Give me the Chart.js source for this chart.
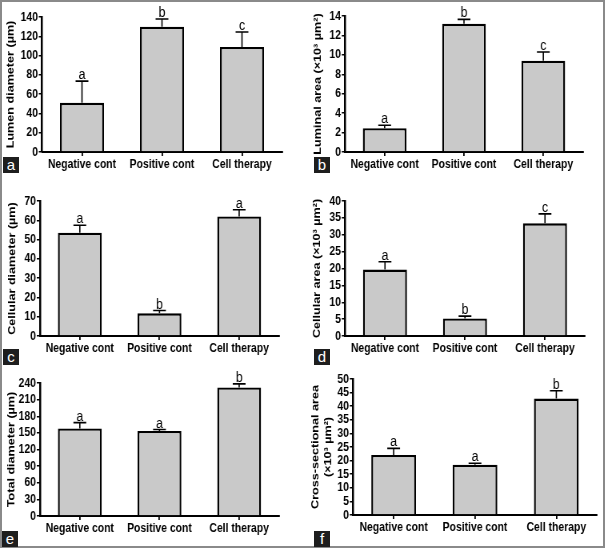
<!DOCTYPE html>
<html>
<head>
<meta charset="utf-8">
<script src="https://cdn.jsdelivr.net/npm/chart.js@4.4.0/dist/chart.umd.min.js"></script>
<style>
  body { margin: 0; background: #fff; }
  #frame { position: absolute; left: 0; top: 0; width: 605px; height: 548px; box-sizing: border-box; border: 2px solid #8a8a8a; }
  canvas { position: absolute; transform-origin: 0 0; }
  .tag { position: absolute; width: 16px; height: 16px; background: #1e1e1e; color: #fff;
         font: 15px "Liberation Sans", Arial, sans-serif; text-align: center; line-height: 15px; }
</style>
</head>
<body>
<div id="frame"></div>
<div class="tag" style="left:3px;top:157px">a</div>
<div class="tag" style="left:314px;top:157px">b</div>
<div class="tag" style="left:3px;top:349px">c</div>
<div class="tag" style="left:314px;top:349px">d</div>
<div class="tag" style="left:2px;top:531px">e</div>
<div class="tag" style="left:314px;top:531px">f</div>
<canvas id="pa"></canvas>
<canvas id="pb"></canvas>
<canvas id="pc"></canvas>
<canvas id="pd"></canvas>
<canvas id="pe"></canvas>
<canvas id="pf"></canvas>
<script>
  "use strict";

  // Groups
  const categories = ["Negative cont", "Positive cont", "Cell therapy"];

  // Means and error (upper bar length)
  const lumenDiameter = [51, 130, 109];
  const lumenDiameterErr = [22.5, 8, 15.5];
  const luminalArea = [2.45, 13.2, 9.4];
  const luminalAreaErr = [0.3, 0.45, 0.9];
  const cellularDiameter = [53.6, 11.8, 62];
  const cellularDiameterErr = [3.8, 1.4, 3.5];
  const cellularArea = [19.7, 5.2, 33.4];
  const cellularAreaErr = [2.3, 0.7, 2.8];
  const totalDiameter = [158, 153.5, 232];
  const totalDiameterErr = [10.5, 2.5, 6.5];
  const crossArea = [22.1, 18.5, 42.8];
  const crossAreaErr = [2.4, 0.5, 2.9];

  // Significance letters
  const lettersA = ["a", "b", "c"];
  const lettersB = ["a", "b", "c"];
  const lettersC = ["a", "b", "a"];
  const lettersD = ["a", "b", "c"];
  const lettersE = ["a", "a", "b"];
  const lettersF = ["a", "a", "b"];

  // Axis ranges [max, step]
  const axisA = [140, 20];
  const axisB = [14, 2];
  const axisC = [70, 10];
  const axisD = [40, 5];
  const axisE = [240, 30];
  const axisF = [50, 5];

  const SANS = '"Liberation Sans", Arial, sans-serif';
  // the published figure is squeezed horizontally
  const SQUEEZE = 0.8;

  // draws the upper error bar and the letter above it
  const errorBars = {
    id: "errorBars",
    afterDatasetsDraw(chart, args, opts) {
      const { ctx } = chart;
      const y = chart.scales.y;
      const meta = chart.getDatasetMeta(0);
      ctx.save();
      ctx.strokeStyle = "#000";
      ctx.fillStyle = "#000";
      ctx.lineWidth = 1.6;
      ctx.font = "15.5px " + SANS;
      ctx.textAlign = "center";
      ctx.textBaseline = "alphabetic";
      meta.data.forEach((bar, i) => {
        const top = y.getPixelForValue(opts.means[i] + opts.errors[i]);
        ctx.beginPath();
        ctx.moveTo(bar.x, bar.y);
        ctx.lineTo(bar.x, top);
        ctx.moveTo(bar.x - 8, top);
        ctx.lineTo(bar.x + 8, top);
        ctx.stroke();
        ctx.fillText(opts.letters[i], bar.x, top - 2);
      });
      ctx.restore();
    }
  };

  function makePanel(id, box, plot, titleX, title, means, errors, letters, axis) {
    const cv = document.getElementById(id);
    const s = SQUEEZE;
    const w = Math.round(box.w / s);
    cv.width = w;
    cv.height = box.h;
    cv.style.left = box.x + "px";
    cv.style.top = box.y + "px";
    cv.style.transform = "scaleX(" + s + ")";
    const fontSize = 13;
    const titleSize = 12.6;
    const lh = titleSize * 1.2;

    new Chart(cv, {
      type: "bar",
      data: {
        labels: categories,
        datasets: [{
          data: means,
          backgroundColor: "#c9c9c9",
          borderColor: "#000",
          borderWidth: 2.4,
          barPercentage: 0.55,
          categoryPercentage: 1.0
        }]
      },
      options: {
        responsive: false,
        animation: false,
        events: [],
        layout: {
          padding: { left: 0, bottom: 0, top: plot.t - box.y, right: w - (plot.r - box.x) / s }
        },
        plugins: {
          legend: { display: false },
          tooltip: { enabled: false },
          errorBars: { means: means, errors: errors, letters: letters }
        },
        scales: {
          x: {
            afterFit: (sc) => { sc.height = box.y + box.h - plot.b; },
            border: { display: true, color: "#000", width: 2 },
            grid: { drawOnChartArea: false, drawTicks: true, tickLength: 4, offset: false, color: "#000", lineWidth: 1.8 },
            ticks: { color: "#000", padding: 1, maxRotation: 0, autoSkip: false,
                     font: { family: SANS, size: fontSize, weight: "bold" } }
          },
          y: {
            min: 0,
            max: axis[0],
            afterFit: (sc) => { sc.width = (plot.l - box.x) / s; },
            border: { display: true, color: "#000", width: 2.5 },
            grid: { drawOnChartArea: false, drawTicks: true, tickLength: 4, color: "#000", lineWidth: 1.5 },
            ticks: { stepSize: axis[1], color: "#000", padding: 1, autoSkip: false,
                     font: { family: SANS, size: fontSize, weight: "bold" } },
            title: {
              display: true,
              text: title,
              color: "#000",
              font: { family: SANS, size: titleSize, weight: "bold" },
              padding: { top: (titleX - box.x) / s - lh / 2, bottom: 0 }
            }
          }
        }
      },
      plugins: [errorBars]
    });
  }

  makePanel("pa", { x: 0, y: 0, w: 300, h: 180 }, { l: 42, t: 17, r: 282, b: 152 }, 10.5,
    "Lumen diameter (\u00b5m)", lumenDiameter, lumenDiameterErr, lettersA, axisA);
  makePanel("pb", { x: 300, y: 0, w: 300, h: 180 }, { l: 345, t: 16, r: 583, b: 152 }, 318,
    "Luminal area (\u00d710\u00b3 \u00b5m\u00b2)", luminalArea, luminalAreaErr, lettersB, axisB);
  makePanel("pc", { x: 0, y: 180, w: 300, h: 184 }, { l: 40, t: 201, r: 279, b: 336 }, 12.5,
    "Cellular diameter (\u00b5m)", cellularDiameter, cellularDiameterErr, lettersC, axisC);
  makePanel("pd", { x: 300, y: 180, w: 300, h: 184 }, { l: 345, t: 201, r: 585, b: 336 }, 317,
    "Cellular area (\u00d710\u00b3 \u00b5m\u00b2)", cellularArea, cellularAreaErr, lettersD, axisD);
  makePanel("pe", { x: 0, y: 364, w: 300, h: 180 }, { l: 40, t: 383, r: 279, b: 516 }, 12,
    "Total diameter (\u00b5m)", totalDiameter, totalDiameterErr, lettersE, axisE);
  makePanel("pf", { x: 300, y: 364, w: 303, h: 180 }, { l: 353, t: 379, r: 597, b: 515 }, 316,
    ["Cross-sectional area", "(\u00d710\u00b3 \u00b5m\u00b2)"], crossArea, crossAreaErr, lettersF, axisF);
</script>
</body>
</html>
